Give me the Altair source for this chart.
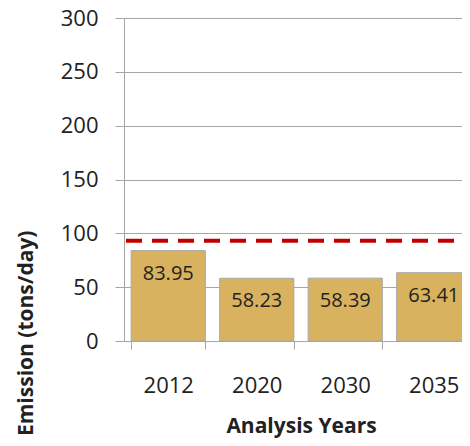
import altair as alt
import pandas as pd

years = ["2012", "2020", "2030", "2035"]
emissions = [83.95, 58.23, 58.39, 63.41]
threshold = [93]
y_ticks = [0, 50, 100, 150, 200, 250, 300]

df = pd.DataFrame({"year": years, "value": emissions})
df["label"] = [f"{v:.2f}" for v in emissions]
rule_df = pd.DataFrame({"t": threshold})

FONT = "Open Sans"
GRID = "#A6A6A6"

xscale = alt.Scale(domain=years, range=[0, 354], paddingInner=0.162, paddingOuter=0.081)
yscale = alt.Scale(domain=[0, 300], nice=False)

base = alt.Chart(df)

bars = base.mark_bar(color="#D8B25E", stroke="#A8A8A8", strokeWidth=1).encode(
    x=alt.X("year:N", scale=xscale, sort=years,
            axis=alt.Axis(title="Analysis Years", labelAngle=0, labelFont=FONT, labelFontSize=22,
                          labelColor="#222222", labelPadding=26, tickSize=8, tickColor=GRID,
                          domainColor=GRID, tickBand="extent", grid=False,
                          titleFont=FONT, titleFontSize=21, titleFontWeight="bold", titleColor="#222222",
                          titleX=177, titleY=91, titleBaseline="alphabetic", titleAlign="center")),
    y=alt.Y("value:Q", scale=yscale,
            axis=alt.Axis(title="Emission (tons/day)", values=y_ticks, labelFont=FONT, labelFontSize=22,
                          labelColor="#222222", labelPadding=17, tickSize=9, tickColor=GRID,
                          domainColor=GRID, gridColor=GRID, gridWidth=1,
                          titleFont=FONT, titleFontSize=21, titleFontWeight="bold", titleColor="#222222",
                          titleAngle=270, titleX=-92, titleY=212, titleAlign="right",
                          titleBaseline="alphabetic")),
)

labels = base.mark_text(font=FONT, fontSize=20, color="#222222", baseline="middle", dy=23).encode(
    x=alt.X("year:N", scale=xscale, sort=years),
    y=alt.Y("value:Q", scale=yscale),
    text="label:N",
)

rule = alt.Chart(rule_df).mark_rule(color="#C00000", strokeWidth=4, strokeDash=[16, 10]).encode(
    y=alt.Y("t:Q", scale=yscale),
    x=alt.value(2),
    x2=alt.value(338),
)

chart = alt.layer(bars, labels, rule).properties(
    width=338, height=323,
    autosize=alt.AutoSizeParams(type="none"),
    padding={"left": 116, "top": 10, "right": 0, "bottom": 97},
).configure_view(stroke=None).configure(background="white")

chart.save("out.html", embed_options={"renderer": "svg", "actions": False})
